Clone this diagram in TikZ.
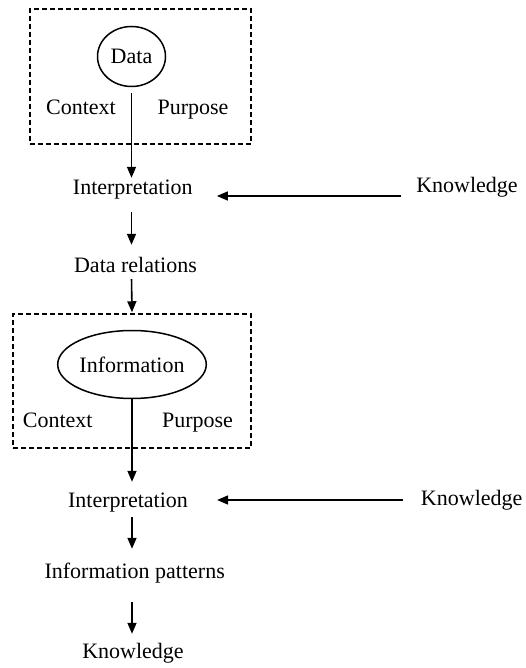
\documentclass[tikz,border=0pt]{standalone}
\usepackage{fontspec}
\setmainfont{Liberation Serif}
\usetikzlibrary{arrows.meta,shapes.geometric}
\begin{document}
\begin{tikzpicture}[x=1pt,y=-1pt,
  lbl/.style={inner sep=0pt,anchor=base,text height=15pt,text depth=5pt,font=\fontsize{22}{26}\selectfont},
  ell/.style={draw,ellipse,line width=1.5pt,inner sep=0pt,text height=15pt,text depth=0pt,font=\fontsize{22}{26}\selectfont},
  dbox/.style={draw,line width=1.5pt,dash pattern=on 5pt off 3pt,inner sep=0pt},
  arr/.style={line width=1.6pt,-{Triangle[length=11pt,width=9pt]}}]
\useasboundingbox (0,0) rectangle (526,668);
% boxes
\node[dbox,minimum width=221pt,minimum height=135pt] (box1) at (140.5,76.5) {};
\node[dbox,minimum width=238pt,minimum height=134pt] (box2) at (132,381) {};
% ellipses
\node[ell,minimum width=68pt,minimum height=60pt] (data) at (131.5,56.5) {Data};
\node[ell,minimum width=135pt,minimum height=68pt] (info) at (132,364.5) {Information};
% labels
\node[lbl] (ctx1) at (81,115) {Context};
\node[lbl] (pur1) at (193,115) {Purpose};
\node[lbl] (int1) at (132.8,195) {Interpretation};
\node[lbl] (kn1) at (467,193) {Knowledge};
\node[lbl] (rel) at (135.5,272) {Data relations};
\node[lbl] (ctx2) at (57.7,427) {Context};
\node[lbl] (pur2) at (197.5,427) {Purpose};
\node[lbl] (int2) at (128,507) {Interpretation};
\node[lbl] (kn2) at (471.7,505) {Knowledge};
\node[lbl] (pat) at (134.7,578) {Information patterns};
\node[lbl] (kn3) at (133,658) {Knowledge};
% connectors
\draw[arr,shorten <=6pt,shorten >=2pt] (data.south) -- (data.south |- int1.north);
\draw[arr,shorten <=12pt,shorten >=12pt] (int1.south -| data.south) -- (data.south |- rel.north);
\draw[arr,shorten <=2pt,shorten >=1pt] (rel.south -| data.south) -- (box2.north);
\draw[arr,shorten >=10pt] (info.south) -- (info.south |- int2.north);
\draw[arr,shorten <=5pt,shorten >=14pt] (int2.south -| info.south) -- (info.south |- pat.north);
\draw[arr,shorten <=19pt,shorten >=9pt] (pat.south -| info.south) -- (info.south |- kn3.north);
\draw[arr,shorten <=15pt,shorten >=24pt] ([yshift=-3pt]kn1.base west) -- ([yshift=-3pt]kn1.base west -| int1.east);
\draw[arr,shorten <=18pt,shorten >=29pt] ([yshift=5pt]kn2.base west) -- ([yshift=5pt]kn2.base west -| int2.east);
\end{tikzpicture}
\end{document}
